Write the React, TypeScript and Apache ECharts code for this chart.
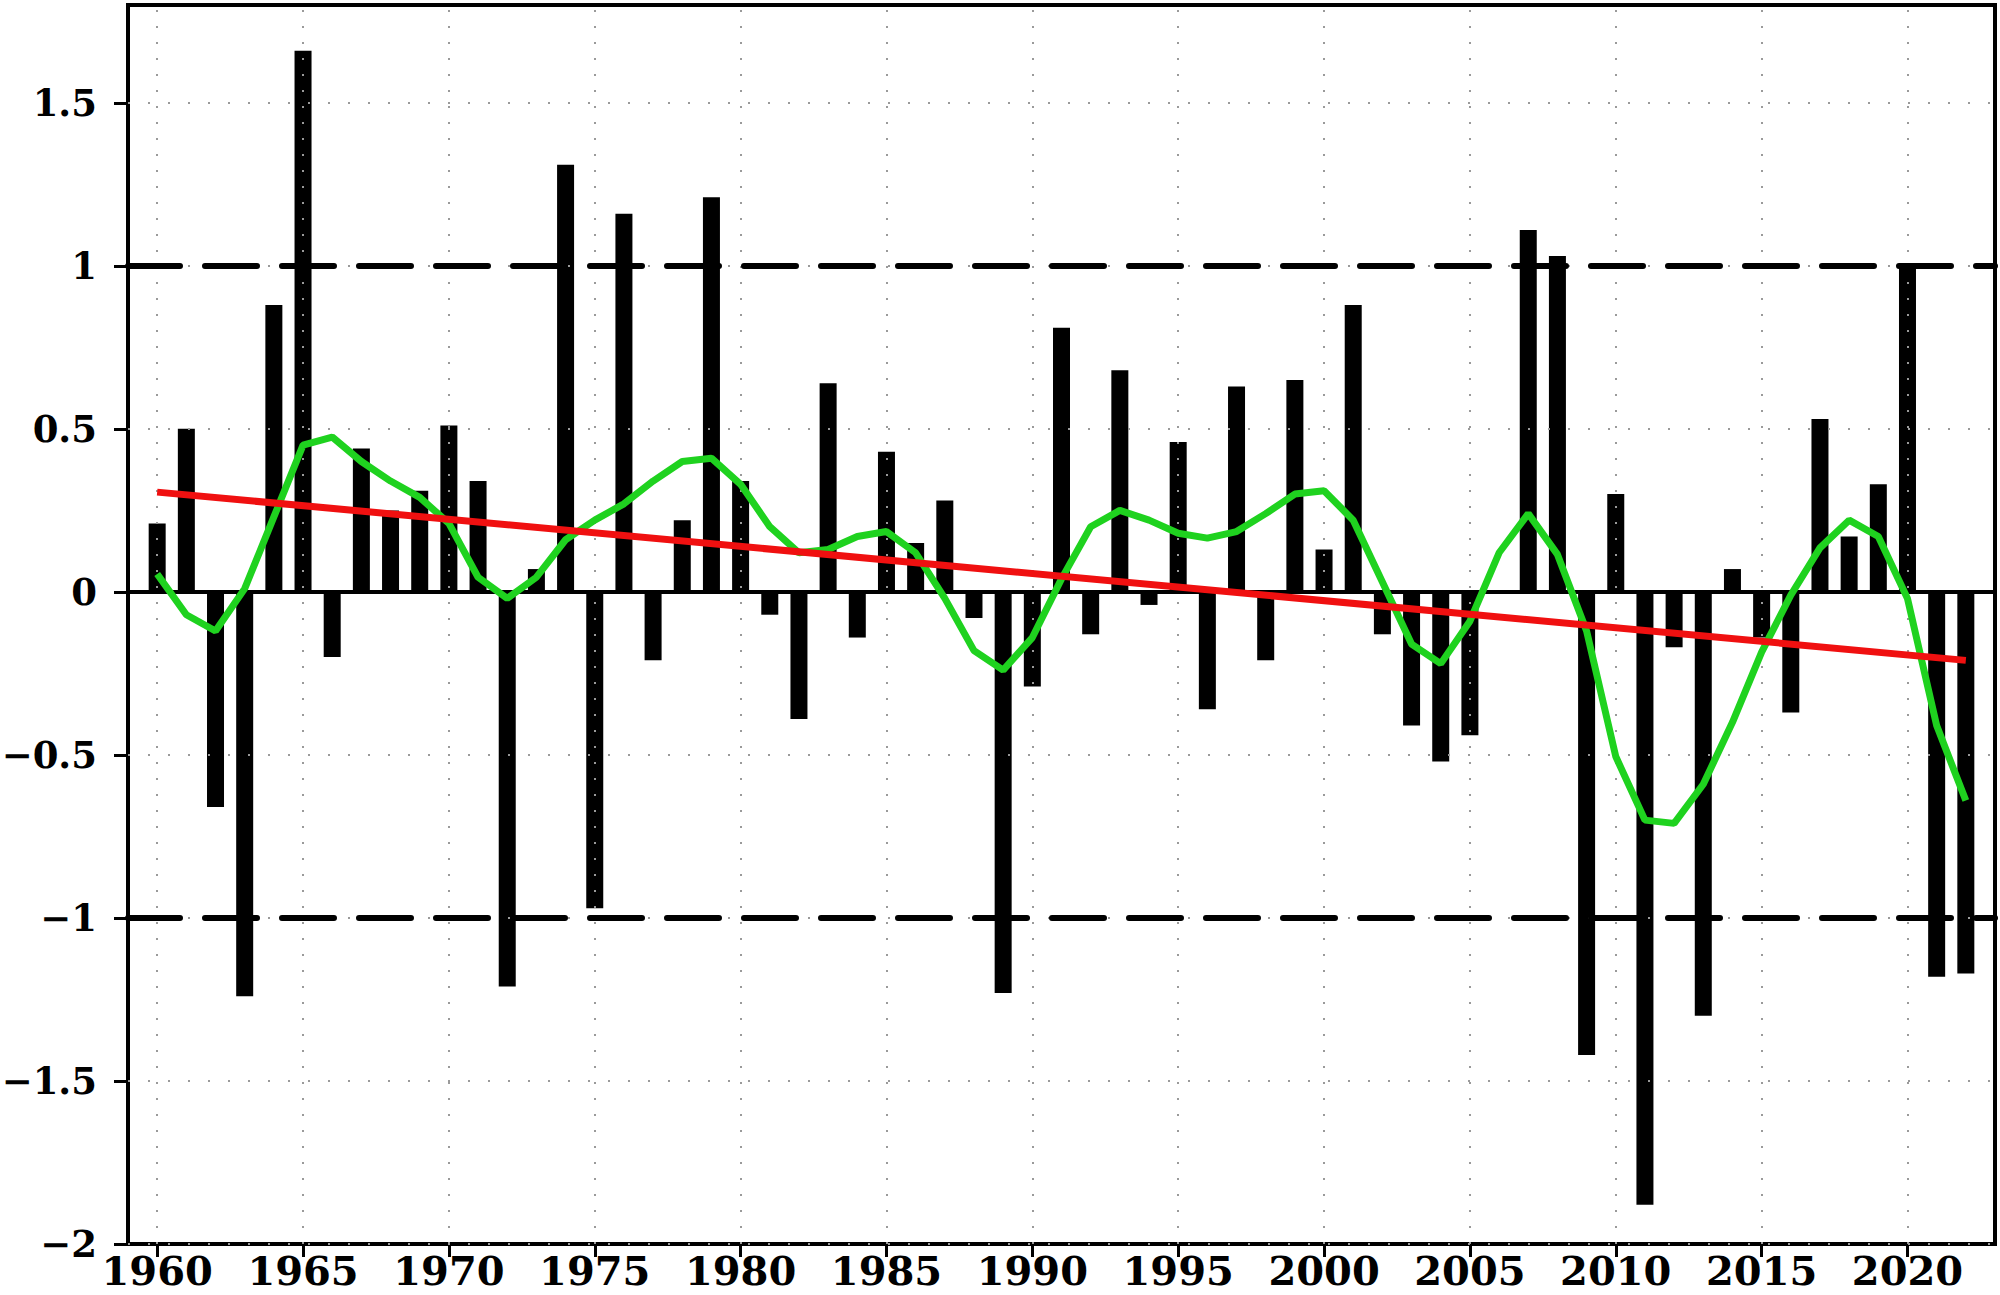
import React, { useEffect, useRef } from 'react';
import * as echarts from 'echarts';

const years = [
  1960, 1961, 1962, 1963, 1964, 1965, 1966, 1967, 1968, 1969,
  1970, 1971, 1972, 1973, 1974, 1975, 1976, 1977, 1978, 1979,
  1980, 1981, 1982, 1983, 1984, 1985, 1986, 1987, 1988, 1989,
  1990, 1991, 1992, 1993, 1994, 1995, 1996, 1997, 1998, 1999,
  2000, 2001, 2002, 2003, 2004, 2005, 2006, 2007, 2008, 2009,
  2010, 2011, 2012, 2013, 2014, 2015, 2016, 2017, 2018, 2019,
  2020, 2021, 2022,
];

const anomaly = [
  0.21, 0.5, -0.66, -1.24, 0.88, 1.66, -0.2, 0.44, 0.25, 0.31,
  0.51, 0.34, -1.21, 0.07, 1.31, -0.97, 1.16, -0.21, 0.22, 1.21,
  0.34, -0.07, -0.39, 0.64, -0.14, 0.43, 0.15, 0.28, -0.08, -1.23,
  -0.29, 0.81, -0.13, 0.68, -0.04, 0.46, -0.36, 0.63, -0.21, 0.65,
  0.13, 0.88, -0.13, -0.41, -0.52, -0.44, 0.0, 1.11, 1.03, -1.42,
  0.3, -1.88, -0.17, -1.3, 0.07, -0.14, -0.37, 0.53, 0.17, 0.33,
  0.99, -1.18, -1.17,
];

const smoothed = [
  0.055, -0.07, -0.12, 0.01, 0.23, 0.45, 0.475, 0.4, 0.34, 0.29,
  0.21, 0.045, -0.02, 0.045, 0.16, 0.22, 0.27, 0.34, 0.4, 0.41,
  0.33, 0.2, 0.12, 0.13, 0.17, 0.185, 0.12, -0.02, -0.18, -0.24,
  -0.14, 0.04, 0.2, 0.25, 0.22, 0.18, 0.165, 0.185, 0.24, 0.3,
  0.31, 0.22, 0.03, -0.16, -0.22, -0.09, 0.12, 0.24, 0.115, -0.12,
  -0.505, -0.7, -0.71, -0.59, -0.4, -0.185, -0.01, 0.135, 0.22, 0.17,
  -0.02, -0.41, -0.64,
];

const trendYears = [1960, 2022];
const trendValues = [0.306, -0.21];

const thresholds = [1, -1];
const xTickYears = [1960, 1965, 1970, 1975, 1980, 1985, 1990, 1995, 2000, 2005, 2010, 2015, 2020];
const yTicks = [-2, -1.5, -1, -0.5, 0, 0.5, 1, 1.5];

export default function App() {
  const ref = useRef<HTMLDivElement>(null);

  useEffect(() => {
    const chart = echarts.init(ref.current!, null, { renderer: 'svg' });
    const font = {
      fontFamily: 'DejaVu Serif',
      fontWeight: 'bold',
      color: '#000',
    };
    chart.setOption({
      animation: false,
      backgroundColor: '#fff',
      grid: {
        left: 128,
        right: 5,
        top: 5,
        bottom: 51,
        show: true,
        borderColor: '#000',
        borderWidth: 4,
        backgroundColor: 'transparent',
        containLabel: false,
        outerBoundsMode: 'none',
      },
      xAxis: {
        type: 'value',
        min: 1959,
        max: 2023,
        axisLine: { show: true, onZero: false, lineStyle: { color: '#000', width: 4 } },
        axisTick: {
          show: true,
          customValues: xTickYears,
          length: 13,
          lineStyle: { color: '#000', width: 3 },
        },
        axisLabel: {
          customValues: xTickYears,
          margin: 10,
          ...font,
          fontSize: 40,
          lineHeight: 32,
          formatter: (v: number) => String(v),
        },
        splitLine: { show: false },
      },
      yAxis: {
        type: 'value',
        min: -2,
        max: 1.8,
        axisLine: { show: true, onZero: false, lineStyle: { color: '#000', width: 4 } },
        axisTick: {
          show: true,
          customValues: yTicks,
          length: 14,
          lineStyle: { color: '#000', width: 3 },
        },
        axisLabel: {
          customValues: yTicks,
          margin: 31,
          ...font,
          fontSize: 37,
          formatter: (v: number) => (v < 0 ? '\u2212' + String(Math.abs(v)) : String(v)),
        },
        splitLine: { show: false },
      },
      series: [
        {
          type: 'bar',
          data: years.map((y, i) => [y, anomaly[i]]),
          barWidth: 17,
          itemStyle: { color: '#000' },
          z: 2,
          silent: true,
        },
        {
          type: 'line',
          data: [],
          silent: true,
          markLine: {
            silent: true,
            symbol: 'none',
            z: 5,
            label: { show: false },
            emphasis: { disabled: true },
            data: [
              ...xTickYears.map((x) => ({
                xAxis: x,
                lineStyle: { color: '#9a9a9a', width: 2, type: [2, 14] },
              })),
              ...yTicks.map((y) => ({
                yAxis: y,
                lineStyle: { color: '#9a9a9a', width: 2, type: [2, 18] },
              })),
            ],
          },
        },
        {
          type: 'line',
          data: [],
          silent: true,
          markLine: {
            silent: true,
            symbol: 'none',
            z: 6,
            label: { show: false },
            emphasis: { disabled: true },
            data: [
              ...thresholds.map((t) => ({
                yAxis: t,
                lineStyle: { color: '#000', width: 6, type: [52, 25], cap: 'round' },
              })),
              {
                yAxis: 0,
                lineStyle: { color: '#000', width: 4, type: 'solid' },
              },
            ],
          },
        },
        {
          type: 'line',
          data: years.map((y, i) => [y, smoothed[i]]),
          showSymbol: false,
          symbol: 'none',
          lineStyle: { color: '#1fd21f', width: 7 },
          z: 10,
          silent: true,
        },
        {
          type: 'line',
          data: trendYears.map((y, i) => [y, trendValues[i]]),
          showSymbol: false,
          symbol: 'none',
          lineStyle: { color: '#f01010', width: 7 },
          z: 11,
          silent: true,
        },
      ],
    });
    return () => chart.dispose();
  }, []);

  return (
    <div
      ref={ref}
      style={{ position: 'absolute', left: 0, top: 0, width: 2000, height: 1295 }}
    />
  );
}
